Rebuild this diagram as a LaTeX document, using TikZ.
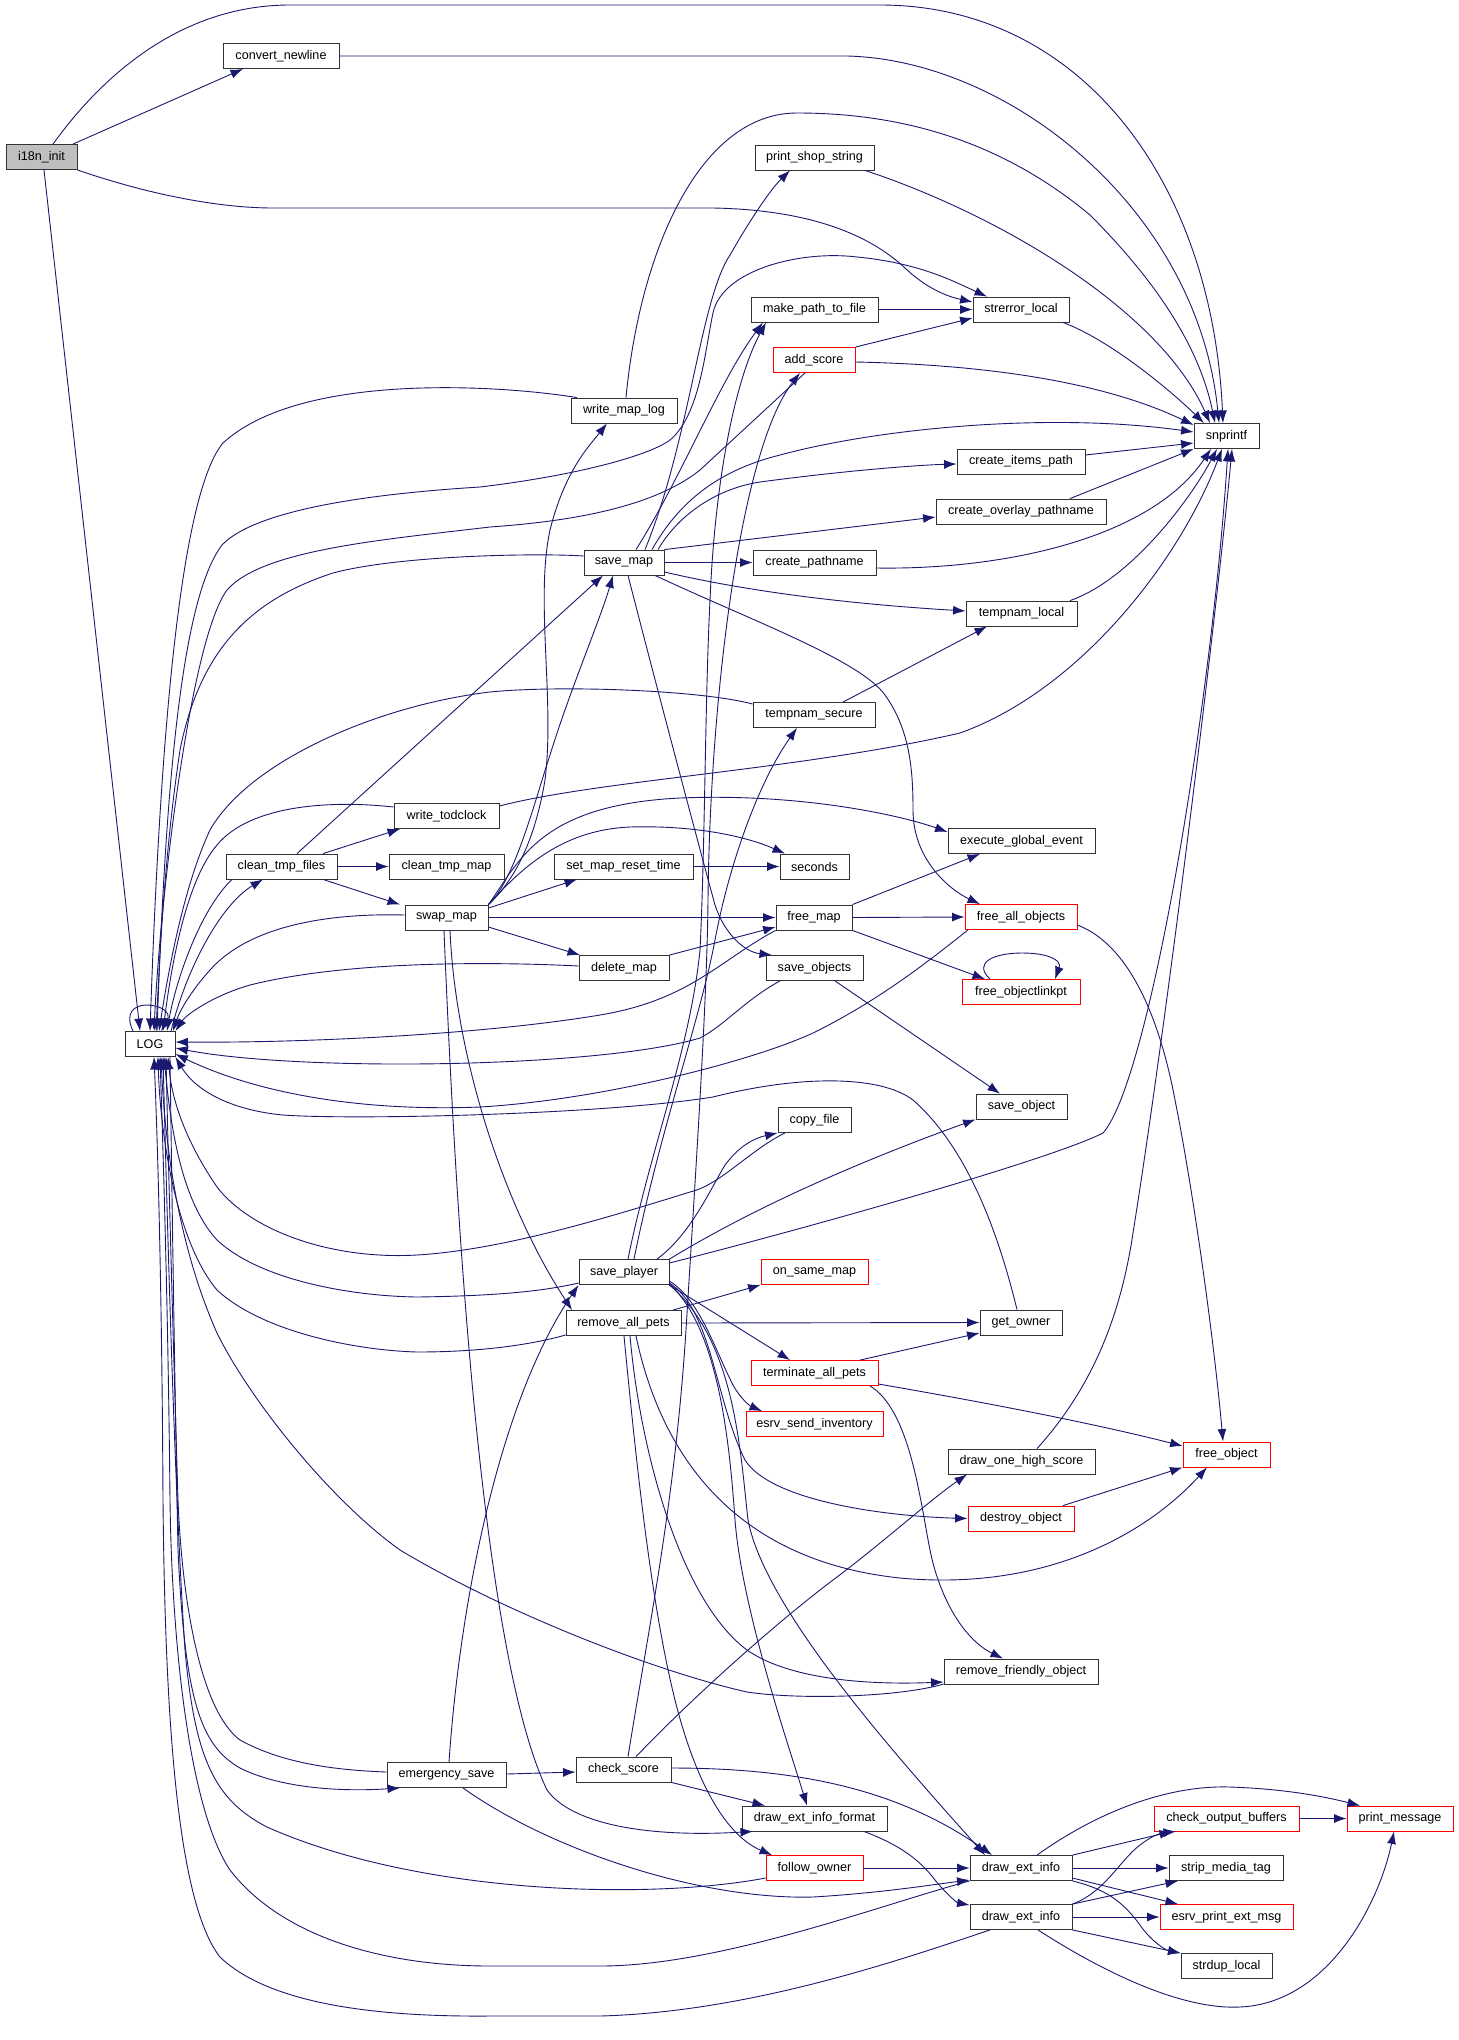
\documentclass[tikz,border=0pt]{standalone}
\usepackage{fontspec}
\setmainfont{Liberation Sans}
\usetikzlibrary{arrows.meta}
\definecolor{edgec}{RGB}{25,25,112}
\newcommand{\dxfont}{\fontsize{12.6}{15}\selectfont}
\begin{document}
\begin{tikzpicture}[x=1pt,y=-1pt,
  fn/.style={draw=black!80, line width=0.85pt, fill=white, minimum height=25pt, inner sep=0pt, font=\dxfont},
  tr/.style={fn, draw=red},
  edg/.style={draw=edgec, line width=0.9pt, -{Latex[length=12.5pt,width=9pt]}}]
\useasboundingbox[fill=white] (0,0) rectangle (1459,2040);
% nodes
\node[fn, fill=gray!50, minimum width=71pt] (i18n) at (41.5,157) {i18n\_init};
\node[fn, minimum width=116pt] (cnl) at (281,56) {convert\_newline};
\node[fn, minimum width=119pt] (pss) at (814.5,157.5) {print\_shop\_string};
\node[fn, minimum width=127pt] (mptf) at (814.5,309.5) {make\_path\_to\_file};
\node[tr, minimum width=82pt] (add) at (814,360) {add\_score};
\node[fn, minimum width=106pt] (wml) at (624,410.5) {write\_map\_log};
\node[fn, minimum width=96pt] (strerr) at (1021,309.5) {strerror\_local};
\node[fn, minimum width=65pt] (snp) at (1226.5,436) {snprintf};
\node[fn, minimum width=128pt] (cip) at (1021,461.5) {create\_items\_path};
\node[fn, minimum width=170pt] (cop) at (1021,511.5) {create\_overlay\_pathname};
\node[fn, minimum width=80pt] (smap) at (624,562.5) {save\_map};
\node[fn, minimum width=123pt] (cpn) at (814.5,562.5) {create\_pathname};
\node[fn, minimum width=111pt] (tpl) at (1021.5,613.5) {tempnam\_local};
\node[fn, minimum width=122pt] (tps) at (814,715) {tempnam\_secure};
\node[fn, minimum width=105pt] (wtc) at (446.5,816) {write\_todclock};
\node[fn, minimum width=147pt] (ege) at (1021.5,841) {execute\_global\_event};
\node[fn, minimum width=111pt] (ctf) at (281.5,866.5) {clean\_tmp\_files};
\node[fn, minimum width=115pt] (ctm) at (446.5,866.5) {clean\_tmp\_map};
\node[fn, minimum width=139pt] (smrt) at (623.5,866.5) {set\_map\_reset\_time};
\node[fn, minimum width=69pt] (sec) at (814.5,866.5) {seconds};
\node[fn, minimum width=83pt] (swap) at (446.5,917.5) {swap\_map};
\node[fn, minimum width=76pt] (fmap) at (814,917.5) {free\_map};
\node[tr, minimum width=112pt] (fao) at (1021,917) {free\_all\_objects};
\node[fn, minimum width=90pt] (dmap) at (624,968) {delete\_map};
\node[fn, minimum width=97pt] (sobjs) at (814.5,968) {save\_objects};
\node[tr, minimum width=118pt] (fol) at (1021,992) {free\_objectlinkpt};
\node[fn, minimum width=50pt] (LOG) at (150,1044) {LOG};
\node[fn, minimum width=73pt] (cpf) at (814.5,1120) {copy\_file};
\node[fn, minimum width=91pt] (sobj) at (1021.5,1106.5) {save\_object};
\node[fn, minimum width=90pt] (splayer) at (624,1272) {save\_player};
\node[tr, minimum width=107pt] (osm) at (814.5,1272) {on\_same\_map};
\node[fn, minimum width=115pt] (rap) at (623.5,1323) {remove\_all\_pets};
\node[fn, minimum width=82pt] (gown) at (1021,1322.5) {get\_owner};
\node[tr, minimum width=127pt] (tap) at (814.5,1373) {terminate\_all\_pets};
\node[tr, minimum width=137pt] (esi) at (814.5,1424) {esrv\_send\_inventory};
\node[fn, minimum width=147pt] (dohs) at (1021.5,1461.5) {draw\_one\_high\_score};
\node[tr, minimum width=87pt] (fobj) at (1226.5,1454.5) {free\_object};
\node[tr, minimum width=106pt] (dobj) at (1021,1518.5) {destroy\_object};
\node[fn, minimum width=154pt] (rfo) at (1021,1671.5) {remove\_friendly\_object};
\node[fn, minimum width=119pt] (esave) at (446.5,1775) {emergency\_save};
\node[fn, minimum width=95pt] (csc) at (623.5,1769.5) {check\_score};
\node[fn, minimum width=145pt] (deif) at (814.5,1818.5) {draw\_ext\_info\_format};
\node[tr, minimum width=97pt] (fown) at (814.5,1868) {follow\_owner};
\node[fn, minimum width=102pt] (dei1) at (1021,1868) {draw\_ext\_info};
\node[fn, minimum width=102pt] (dei2) at (1021,1917) {draw\_ext\_info};
\node[tr, minimum width=145pt] (cob) at (1226.5,1818.5) {check\_output\_buffers};
\node[tr, minimum width=106pt] (pmsg) at (1400,1818.5) {print\_message};
\node[fn, minimum width=114pt] (smt) at (1226,1868) {strip\_media\_tag};
\node[tr, minimum width=133pt] (epem) at (1226.5,1917) {esrv\_print\_ext\_msg};
\node[fn, minimum width=91pt] (sdl) at (1226.5,1966) {strdup\_local};
% i18n_init
\draw[edg] (i18n.north -| 53,0) .. controls (110,65) and (190,5) .. (290,5) -- (880,5) .. controls (1080,5) and (1212,180) .. (snp.north -| 1223,0);
\draw[edg] (i18n.north -| 73,0) -- (cnl.south -| 243,0);
\draw[edg] (i18n.south east) .. controls (150,195) and (220,208) .. (273,208) -- (713,208) .. controls (820,210) and (875,240) .. (905,268) .. controls (925,287) and (945,296) .. (strerr.west |- 0,302);
\draw[edg] (i18n.south -| 44,0) -- (LOG.north -| 140,0);
% convert_newline
\draw[edg] (cnl.east) -- (847,56) .. controls (1010,60) and (1198,210) .. (snp.north -| 1219,0);
% print_shop_string
\draw[edg] (pss.south -| 865,0) .. controls (1000,215) and (1160,310) .. (snp.north -| 1210,0);
% write_map_log
\draw[edg] (wml.north -| 626,0) .. controls (640,250) and (700,113) .. (797,113) .. controls (900,113) and (1000,140) .. (1090,215) .. controls (1160,285) and (1200,350) .. (snp.north -| 1215,0);
\draw[edg] (wml.north -| 577,0) .. controls (500,385) and (300,372) .. (223,443) .. controls (175,500) and (158,800) .. (LOG.north -| 150,0);
% strerror_local
\draw[edg] (strerr.south -| 1063,0) .. controls (1110,340) and (1170,390) .. (snp.north -| 1204,0);
% make_path_to_file
\draw[edg] (mptf.east) -- (strerr.west);
% add_score
\draw[edg] (add.north east) -- (strerr.west |- 0,318);
\draw[edg] (add.east |- 0,362) .. controls (1000,365) and (1110,385) .. (snp.west |- 0,425);
\draw[edg] (add.south -| 805,0) -- (700,470) .. controls (650,510) and (560,522) .. (490,527) .. controls (380,540) and (262,550) .. (227,590) .. controls (190,640) and (160,900) .. (LOG.north -| 154,0);
% LOG -> strerror_local
\draw[edg] (LOG.north -| 157,0) .. controls (165,800) and (180,600) .. (222,545) .. controls (260,505) and (400,492) .. (480,487) .. controls (580,475) and (650,455) .. (670,440) .. controls (700,415) and (705,350) .. (713,313) .. controls (722,270) and (800,250) .. (857,257) .. controls (920,263) and (955,282) .. (strerr.north -| 987,0);
% save_map
\draw[edg] (smap.north -| 636,0) .. controls (680,480) and (720,380) .. (mptf.south -| 763,0);
\draw[edg] (smap.north -| 645,0) .. controls (690,440) and (700,300) .. (730,255) .. controls (750,220) and (770,190) .. (pss.south -| 790,0);
\draw[edg] (smap.north -| 652,0) .. controls (680,500) and (720,470) .. (780,455) .. controls (880,428) and (1050,412) .. (snp.west |- 0,432);
\draw[edg] (smap.north -| 658,0) .. controls (680,512) and (720,488) .. (760,482) .. controls (850,470) and (920,465) .. (cip.west |- 0,464);
\draw[edg] (smap.north east) -- (cop.west |- 0,517);
\draw[edg] (smap.east) -- (cpn.west);
\draw[edg] (smap.east |- 0,572) .. controls (750,592) and (850,604) .. (tpl.west |- 0,611);
\draw[edg] (smap.south -| 655,0) .. controls (750,620) and (860,660) .. (885,695) .. controls (910,730) and (913,770) .. (913,810) .. controls (913,860) and (950,890) .. (fao.north -| 980,0);
\draw[edg] (smap.south -| 628,0) .. controls (660,700) and (700,850) .. (715,905) .. controls (725,935) and (745,952) .. (sobjs.north -| 772,0);
\draw[edg] (smap.west |- 0,556) .. controls (540,553) and (400,555) .. (333,573) .. controls (250,600) and (200,650) .. (180,750) .. controls (165,850) and (160,950) .. (LOG.north -| 156,0);
% create_* / tempnam_local
\draw[edg] (cip.east |- 0,455) -- (snp.west |- 0,443);
\draw[edg] (cop.north -| 1070,0) -- (snp.south west);
\draw[edg] (cpn.east |- 0,568) .. controls (1000,570) and (1150,540) .. (snp.south -| 1211,0);
\draw[edg] (tpl.north -| 1070,0) .. controls (1130,580) and (1190,500) .. (snp.south -| 1217,0);
% tempnam_secure
\draw[edg] (tps.north -| 843,0) -- (tpl.south -| 987,0);
\draw[edg] (tps.west |- 0,704) .. controls (700,690) and (560,685) .. (490,692) .. controls (380,705) and (250,760) .. (210,830) .. controls (182,890) and (167,980) .. (LOG.north -| 159,0);
% write_todclock
\draw[edg] (wtc.east |- 0,806) .. controls (600,780) and (800,770) .. (960,733) .. controls (1080,690) and (1180,560) .. (snp.south -| 1222,0);
\draw[edg] (wtc.west |- 0,807) .. controls (330,800) and (250,805) .. (217,845) .. controls (187,880) and (172,960) .. (LOG.north -| 163,0);
% clean_tmp_files
\draw[edg] (ctf.north -| 323,0) -- (wtc.south -| 400,0);
\draw[edg] (ctf.east) -- (ctm.west);
\draw[edg] (ctf.south -| 323,0) -- (swap.north -| 400,0);
\draw[edg] (ctf.north -| 297,0) -- (smap.south -| 603,0);
\draw[edg] (ctf.south -| 232,0) .. controls (200,910) and (176,980) .. (LOG.north -| 167,0);
\draw[edg] (LOG.north -| 171,0) .. controls (186,970) and (220,905) .. (ctf.south -| 263,0);
% swap_map
\draw[edg] (swap.north east) .. controls (515,880) and (535,800) .. (550,755) .. controls (570,690) and (600,620) .. (smap.south -| 613,0);
\draw[edg] (swap.north east) .. controls (515,880) and (535,840) .. (545,780) .. controls (555,700) and (535,600) .. (550,530) .. controls (565,470) and (590,445) .. (wml.south -| 607,0);
\draw[edg] (swap.north east) .. controls (520,870) and (560,830) .. (630,827) .. controls (700,825) and (750,838) .. (sec.north -| 785,0);
\draw[edg] (swap.north east) .. controls (520,860) and (540,805) .. (680,798) .. controls (800,793) and (900,815) .. (ege.west |- 0,832);
\draw[edg] (swap.east |- 0,908) -- (smrt.south -| 577,0);
\draw[edg] (swap.east) -- (fmap.west);
\draw[edg] (swap.east |- 0,927) -- (dmap.north -| 580,0);
\draw[edg] (swap.south -| 450,0) .. controls (455,1050) and (500,1200) .. (rap.north -| 572,0);
\draw[edg] (swap.south -| 444,0) .. controls (455,1200) and (480,1650) .. (547,1790) .. controls (570,1822) and (640,1838) .. (deif.south -| 753,0);
\draw[edg] (swap.west |- 0,915) .. controls (330,913) and (250,925) .. (210,970) .. controls (192,990) and (180,1010) .. (LOG.north -| 173,0);
% set_map_reset_time
\draw[edg] (smrt.east) -- (sec.west);
% free_map
\draw[edg] (fmap.east) -- (fao.west);
\draw[edg] (fmap.north east) -- (ege.south -| 980,0);
\draw[edg] (fmap.south east) -- (fol.north -| 985,0);
\draw[edg] (fmap.south west) .. controls (720,960) and (690,1000) .. (600,1015) .. controls (480,1035) and (300,1043) .. (LOG.east |- 0,1042);
% free_all_objects
\draw[edg] (fao.east |- 0,925) .. controls (1130,945) and (1160,1020) .. (1175,1100) .. controls (1195,1200) and (1215,1350) .. (fobj.north -| 1223,0);
\draw[edg] (fao.south -| 968,0) .. controls (930,960) and (880,1000) .. (813,1033) .. controls (750,1062) and (600,1100) .. (480,1107) .. controls (350,1112) and (250,1090) .. (LOG.east |- 0,1054);
% free_objectlinkpt
\draw[edg] (fol.north -| 990,0) .. controls (972,962) and (995,953) .. (1022,953) .. controls (1048,953) and (1062,960) .. (fol.north -| 1055,0);
% delete_map
\draw[edg] (dmap.north east) -- (fmap.west |- 0,927);
\draw[edg] (dmap.west |- 0,966) .. controls (500,962) and (350,960) .. (250,985) .. controls (212,996) and (186,1015) .. (LOG.north east);
% save_objects
\draw[edg] (sobjs.south -| 835,0) -- (sobj.north -| 1000,0);
\draw[edg] (sobjs.south -| 780,0) .. controls (745,1000) and (725,1025) .. (700,1038) .. controls (600,1068) and (300,1072) .. (LOG.east |- 0,1048);
% LOG
\draw[edg] (LOG.north -| 133,0) .. controls (124,1012) and (135,1005) .. (147,1005) .. controls (160,1005) and (172,1012) .. (LOG.north -| 161,0);
\draw[edg] (LOG.south -| 170,0) .. controls (172,1200) and (175,1400) .. (178,1550) .. controls (185,1700) and (200,1745) .. (240,1768) .. controls (280,1788) and (340,1792) .. (esave.south -| 400,0);
% copy_file
\draw[edg] (cpf.south -| 785,0) .. controls (750,1150) and (720,1185) .. (690,1192) .. controls (600,1220) and (500,1250) .. (417,1255) .. controls (330,1260) and (250,1230) .. (217,1187) .. controls (185,1140) and (172,1100) .. (LOG.south -| 168,0);
% save_player
\draw[edg] (splayer.north -| 628,0) .. controls (650,1150) and (690,1050) .. (700,950) .. controls (705,850) and (705,700) .. (710,600) .. controls (715,480) and (735,380) .. (mptf.south -| 766,0);
\draw[edg] (splayer.north -| 634,0) .. controls (660,1130) and (700,1020) .. (715,940) .. controls (730,860) and (760,780) .. (tps.south -| 797,0);
\draw[edg] (splayer.north -| 657,0) .. controls (690,1235) and (710,1190) .. (725,1165) .. controls (740,1145) and (755,1138) .. (cpf.south west);
\draw[edg] (splayer.north east) .. controls (750,1210) and (850,1165) .. (sobj.south west);
\draw[edg] (splayer.east |- 0,1263) .. controls (800,1230) and (1050,1160) .. (1103,1133) .. controls (1150,1080) and (1212,700) .. (snp.south -| 1228,0);
\draw[edg] (splayer.south east) -- (tap.north -| 790,0);
\draw[edg] (splayer.east |- 0,1281) .. controls (700,1300) and (715,1350) .. (733,1385) .. controls (740,1398) and (750,1406) .. (esi.north -| 762,0);
\draw[edg] (splayer.east |- 0,1283) .. controls (712,1310) and (715,1400) .. (745,1460) .. controls (770,1500) and (880,1516) .. (dobj.west);
\draw[edg] (splayer.east |- 0,1284) .. controls (720,1330) and (730,1450) .. (735,1520) .. controls (742,1610) and (790,1750) .. (deif.north -| 807,0);
\draw[edg] (splayer.east |- 0,1285) .. controls (735,1340) and (740,1450) .. (748,1520) .. controls (765,1610) and (900,1760) .. (dei1.north -| 985,0);
\draw[edg] (splayer.west |- 0,1283) .. controls (540,1292) and (490,1296) .. (417,1297) .. controls (350,1296) and (260,1280) .. (217,1240) .. controls (180,1200) and (170,1120) .. (LOG.south -| 164,0);
% remove_all_pets
\draw[edg] (rap.north -| 673,0) -- (osm.south west);
\draw[edg] (rap.east) -- (gown.west);
\draw[edg] (rap.west |- 0,1335) .. controls (530,1345) and (480,1352) .. (417,1352) .. controls (350,1350) and (260,1330) .. (217,1290) .. controls (175,1240) and (160,1130) .. (LOG.south -| 158,0);
\draw[edg] (rap.south -| 630,0) .. controls (640,1450) and (680,1600) .. (747,1650) .. controls (790,1680) and (870,1685) .. (rfo.west |- 0,1682);
\draw[edg] (rap.south -| 636,0) .. controls (660,1450) and (730,1560) .. (900,1578) .. controls (1050,1592) and (1150,1530) .. (fobj.south -| 1207,0);
\draw[edg] (rap.south -| 624,0) .. controls (635,1450) and (650,1600) .. (675,1700) .. controls (695,1780) and (725,1835) .. (fown.north -| 772,0);
% terminate_all_pets
\draw[edg] (tap.north -| 860,0) -- (gown.west |- 0,1333);
\draw[edg] (tap.east |- 0,1384) .. controls (1000,1405) and (1100,1425) .. (fobj.west |- 0,1446);
\draw[edg] (tap.south -| 870,0) .. controls (910,1410) and (920,1500) .. (930,1550) .. controls (940,1600) and (965,1640) .. (rfo.north -| 1003,0);
% get_owner
\draw[edg] (gown.north -| 1017,0) .. controls (1000,1240) and (970,1150) .. (913,1100) .. controls (880,1075) and (800,1075) .. (713,1097) .. controls (600,1115) and (350,1120) .. (283,1115) .. controls (230,1110) and (195,1090) .. (LOG.south east);
% draw_one_high_score
\draw[edg] (dohs.north -| 1037,0) .. controls (1090,1390) and (1120,1320) .. (1133,1233) .. controls (1170,1000) and (1218,600) .. (snp.south -| 1232,0);
% destroy_object
\draw[edg] (dobj.north -| 1063,0) -- (fobj.south west);
% remove_friendly_object
\draw[edg] (rfo.west |- 0,1684) .. controls (900,1697) and (800,1700) .. (747,1692) .. controls (650,1670) and (500,1610) .. (400,1550) .. controls (330,1500) and (250,1400) .. (217,1333) .. controls (180,1250) and (165,1150) .. (LOG.south -| 161,0);
% emergency_save
\draw[edg] (esave.east |- 0,1774) -- (csc.west |- 0,1772);
\draw[edg] (esave.north -| 449,0) .. controls (460,1600) and (500,1400) .. (splayer.south west);
\draw[edg] (esave.south -| 463,0) .. controls (550,1850) and (700,1900) .. (813,1897) .. controls (880,1893) and (930,1885) .. (dei1.west |- 0,1880);
\draw[edg] (esave.west |- 0,1772) .. controls (330,1770) and (280,1762) .. (240,1740) .. controls (200,1710) and (182,1600) .. (178,1500) .. controls (172,1300) and (168,1150) .. (LOG.south -| 166,0);
% check_score
\draw[edg] (csc.north -| 628,0) .. controls (650,1620) and (675,1500) .. (686,1330) .. controls (697,1150) and (707,1000) .. (708,900) .. controls (710,700) and (740,450) .. (add.south -| 800,0);
\draw[edg] (csc.north -| 636,0) .. controls (700,1690) and (780,1620) .. (833,1580) .. controls (880,1545) and (930,1500) .. (dohs.south -| 967,0);
\draw[edg] (csc.east |- 0,1768) .. controls (800,1768) and (900,1790) .. (dei1.north -| 992,0);
\draw[edg] (csc.south east) -- (deif.north -| 765,0);
% draw_ext_info_format
\draw[edg] (deif.south -| 864,0) .. controls (900,1845) and (920,1860) .. (935,1880) .. controls (950,1898) and (958,1903) .. (dei2.west |- 0,1905);
% follow_owner
\draw[edg] (fown.east) -- (dei1.west);
\draw[edg] (fown.west |- 0,1878) .. controls (650,1900) and (420,1895) .. (267,1827) .. controls (215,1800) and (195,1760) .. (185,1650) .. controls (175,1500) and (168,1250) .. (LOG.south -| 163,0);
% draw_ext_info (1)
\draw[edg] (dei1.north -| 1037,0) .. controls (1100,1810) and (1170,1785) .. (1230,1787) .. controls (1290,1789) and (1330,1798) .. (pmsg.north -| 1360,0);
\draw[edg] (dei1.north east) -- (cob.south -| 1172,0);
\draw[edg] (dei1.east) -- (smt.west);
\draw[edg] (dei1.east |- 0,1878) -- (epem.north -| 1178,0);
\draw[edg] (dei1.south east) .. controls (1110,1890) and (1125,1905) .. (1140,1925) .. controls (1150,1940) and (1165,1950) .. (sdl.north west);
\draw[edg] (dei1.south west) .. controls (880,1905) and (720,1966) .. (600,1966) -- (490,1966) .. controls (380,1966) and (280,1935) .. (230,1870) .. controls (190,1810) and (172,1650) .. (170,1500) .. controls (168,1300) and (163,1150) .. (LOG.south -| 160,0);
% draw_ext_info (2)
\draw[edg] (dei2.north east) .. controls (1105,1892) and (1120,1860) .. (1140,1845) .. controls (1150,1837) and (1160,1833) .. (cob.south -| 1176,0);
\draw[edg] (dei2.north east) -- (smt.south -| 1178,0);
\draw[edg] (dei2.east) -- (epem.west);
\draw[edg] (dei2.south east) -- (sdl.north west);
\draw[edg] (dei2.south -| 1038,0) .. controls (1100,1970) and (1180,2010) .. (1240,2007) .. controls (1330,2003) and (1380,1900) .. (pmsg.south -| 1394,0);
\draw[edg] (dei2.south -| 990,0) .. controls (900,1960) and (750,2012) .. (600,2016) -- (490,2016) .. controls (380,2017) and (270,2005) .. (220,1957) .. controls (175,1900) and (165,1700) .. (163,1500) .. controls (162,1300) and (158,1150) .. (LOG.south -| 154,0);
% check_output_buffers
\draw[edg] (cob.east) -- (pmsg.west);
\end{tikzpicture}
\end{document}
